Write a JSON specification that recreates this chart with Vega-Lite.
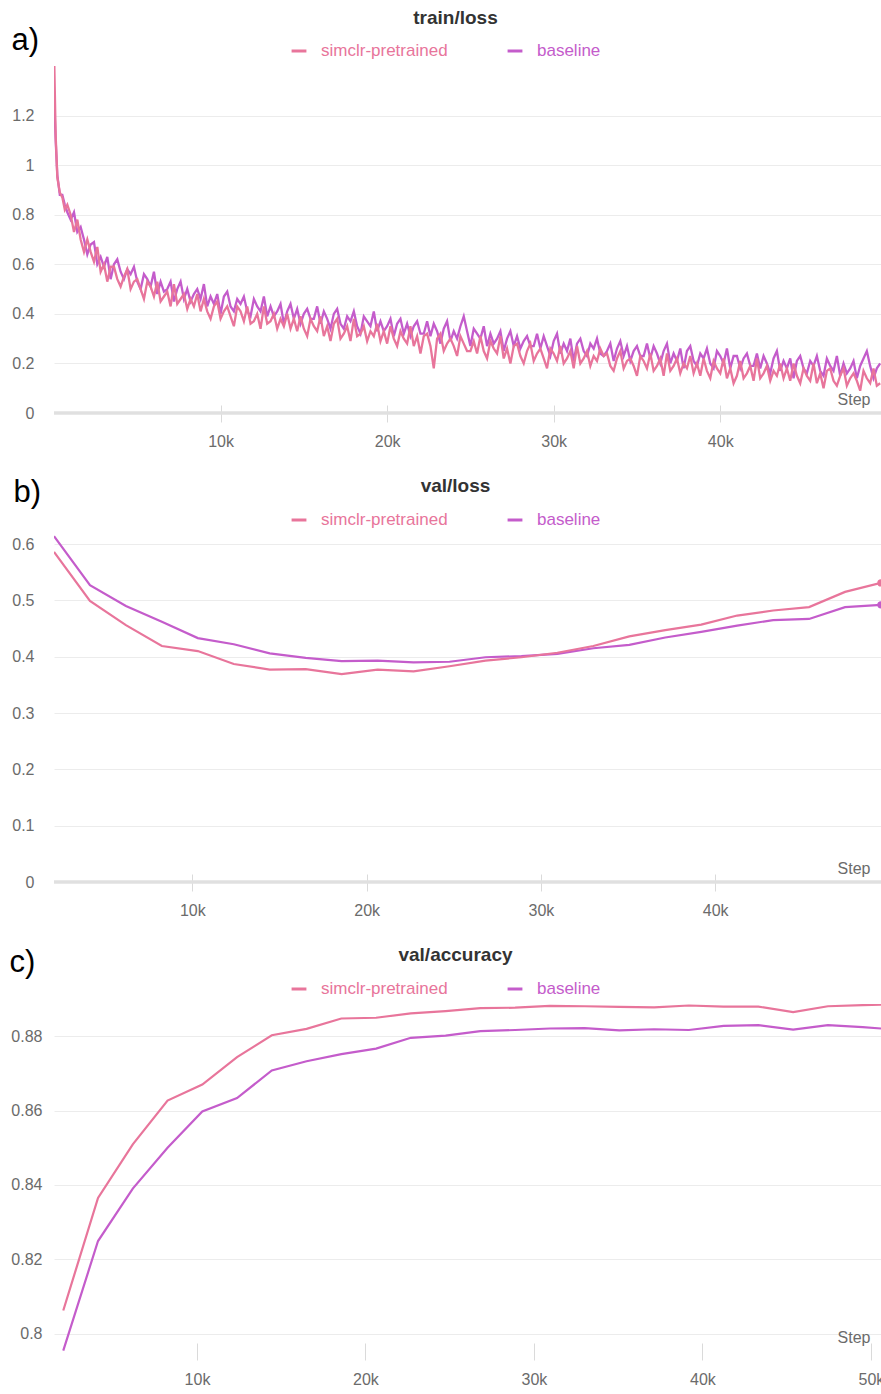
{
 "$schema": "https://vega.github.io/schema/vega-lite/v6.json",
 "padding": {"left": 9, "top": 9, "right": 0, "bottom": 0},
 "autosize": {"type": "pad"},
 "bounds": "flush",
 "spacing": 122,
 "resolve": {"scale": {"color": "independent"}, "legend": {"color": "independent"}},
 "config": {
  "font": "Liberation Sans",
  "view": {"stroke": null},
  "axis": {"labelFont": "Liberation Sans", "labelFontSize": 16, "labelColor": "#6b6b6b", "gridColor": "#ececec", "gridWidth": 1, "domain": false, "ticks": false, "titleFont": "Liberation Sans"},
  "axisX": {"grid": false, "ticks": true, "tickSize": 17, "tickColor": "#dadada", "labelPadding": 11, "titleFontSize": 16, "titleColor": "#6b6b6b", "titleFontWeight": "normal", "titleAnchor": "end", "titleAlign": "right", "titleBaseline": "alphabetic"},
  "axisY": {"grid": true, "labelPadding": 20, "titleAngle": 0, "titleAlign": "left", "titleBaseline": "alphabetic", "titleFontSize": 31, "titleColor": "#000000", "titleFontWeight": "normal"},
  "title": {"font": "Liberation Sans", "fontSize": 19, "fontWeight": "bold", "color": "#333333", "anchor": "middle", "dx": -12},
  "legend": {"symbolType": "stroke", "symbolStrokeWidth": 3, "symbolSize": 220, "labelFont": "Liberation Sans", "labelFontSize": 17, "labelOffset": 13, "columnPadding": 53}
 },
 "datasets": {
  "train": [
   {"step": 20, "simclr-pretrained": 1.40, "baseline": 1.25},
   {"step": 100, "simclr-pretrained": 1.12, "baseline": 1.10},
   {"step": 200, "simclr-pretrained": 0.95, "baseline": 0.96},
   {"step": 350, "simclr-pretrained": 0.89, "baseline": 0.88},
   {"step": 500, "simclr-pretrained": 0.87, "baseline": 0.88},
   {"step": 650, "simclr-pretrained": 0.82, "baseline": 0.84},
   {"step": 800, "simclr-pretrained": 0.84, "baseline": 0.81},
   {"step": 1000, "simclr-pretrained": 0.80, "baseline": 0.78},
   {"step": 1200, "simclr-pretrained": 0.73, "baseline": 0.81},
   {"step": 1400, "simclr-pretrained": 0.78, "baseline": 0.73},
   {"step": 1600, "simclr-pretrained": 0.70, "baseline": 0.75},
   {"step": 1800, "simclr-pretrained": 0.65, "baseline": 0.70},
   {"step": 2000, "simclr-pretrained": 0.70, "baseline": 0.64},
   {"step": 2200, "simclr-pretrained": 0.65, "baseline": 0.68},
   {"step": 2400, "simclr-pretrained": 0.61, "baseline": 0.69},
   {"step": 2600, "simclr-pretrained": 0.67, "baseline": 0.60},
   {"step": 2800, "simclr-pretrained": 0.57, "baseline": 0.63},
   {"step": 3000, "simclr-pretrained": 0.60, "baseline": 0.59},
   {"step": 3200, "simclr-pretrained": 0.53, "baseline": 0.63},
   {"step": 3400, "simclr-pretrained": 0.59, "baseline": 0.54},
   {"step": 3600, "simclr-pretrained": 0.59, "baseline": 0.60},
   {"step": 3800, "simclr-pretrained": 0.54, "baseline": 0.62},
   {"step": 4000, "simclr-pretrained": 0.51, "baseline": 0.57},
   {"step": 4200, "simclr-pretrained": 0.55, "baseline": 0.54},
   {"step": 4400, "simclr-pretrained": 0.58, "baseline": 0.58},
   {"step": 4600, "simclr-pretrained": 0.50, "baseline": 0.56},
   {"step": 4800, "simclr-pretrained": 0.53, "baseline": 0.59},
   {"step": 5000, "simclr-pretrained": 0.54, "baseline": 0.53},
   {"step": 5200, "simclr-pretrained": 0.50, "baseline": 0.50},
   {"step": 5400, "simclr-pretrained": 0.46, "baseline": 0.56},
   {"step": 5600, "simclr-pretrained": 0.53, "baseline": 0.54},
   {"step": 5800, "simclr-pretrained": 0.51, "baseline": 0.51},
   {"step": 6000, "simclr-pretrained": 0.47, "baseline": 0.57},
   {"step": 6200, "simclr-pretrained": 0.53, "baseline": 0.48},
   {"step": 6400, "simclr-pretrained": 0.45, "baseline": 0.53},
   {"step": 6600, "simclr-pretrained": 0.47, "baseline": 0.49},
   {"step": 6800, "simclr-pretrained": 0.49, "baseline": 0.50},
   {"step": 7000, "simclr-pretrained": 0.43, "baseline": 0.53},
   {"step": 7200, "simclr-pretrained": 0.52, "baseline": 0.45},
   {"step": 7400, "simclr-pretrained": 0.44, "baseline": 0.50},
   {"step": 7600, "simclr-pretrained": 0.46, "baseline": 0.53},
   {"step": 7800, "simclr-pretrained": 0.48, "baseline": 0.46},
   {"step": 8000, "simclr-pretrained": 0.42, "baseline": 0.50},
   {"step": 8200, "simclr-pretrained": 0.46, "baseline": 0.45},
   {"step": 8400, "simclr-pretrained": 0.43, "baseline": 0.48},
   {"step": 8600, "simclr-pretrained": 0.48, "baseline": 0.50},
   {"step": 8800, "simclr-pretrained": 0.41, "baseline": 0.46},
   {"step": 9000, "simclr-pretrained": 0.46, "baseline": 0.52},
   {"step": 9200, "simclr-pretrained": 0.41, "baseline": 0.43},
   {"step": 9400, "simclr-pretrained": 0.38, "baseline": 0.47},
   {"step": 9600, "simclr-pretrained": 0.43, "baseline": 0.44},
   {"step": 9800, "simclr-pretrained": 0.45, "baseline": 0.48},
   {"step": 10000, "simclr-pretrained": 0.38, "baseline": 0.40},
   {"step": 10200, "simclr-pretrained": 0.41, "baseline": 0.47},
   {"step": 10400, "simclr-pretrained": 0.43, "baseline": 0.49},
   {"step": 10600, "simclr-pretrained": 0.39, "baseline": 0.43},
   {"step": 10800, "simclr-pretrained": 0.35, "baseline": 0.41},
   {"step": 11000, "simclr-pretrained": 0.43, "baseline": 0.46},
   {"step": 11200, "simclr-pretrained": 0.41, "baseline": 0.44},
   {"step": 11400, "simclr-pretrained": 0.37, "baseline": 0.47},
   {"step": 11600, "simclr-pretrained": 0.43, "baseline": 0.41},
   {"step": 11800, "simclr-pretrained": 0.36, "baseline": 0.39},
   {"step": 12000, "simclr-pretrained": 0.37, "baseline": 0.46},
   {"step": 12200, "simclr-pretrained": 0.40, "baseline": 0.43},
   {"step": 12400, "simclr-pretrained": 0.34, "baseline": 0.41},
   {"step": 12600, "simclr-pretrained": 0.43, "baseline": 0.47},
   {"step": 12800, "simclr-pretrained": 0.36, "baseline": 0.39},
   {"step": 13000, "simclr-pretrained": 0.37, "baseline": 0.43},
   {"step": 13200, "simclr-pretrained": 0.40, "baseline": 0.39},
   {"step": 13400, "simclr-pretrained": 0.34, "baseline": 0.41},
   {"step": 13600, "simclr-pretrained": 0.38, "baseline": 0.44},
   {"step": 13800, "simclr-pretrained": 0.35, "baseline": 0.36},
   {"step": 14000, "simclr-pretrained": 0.40, "baseline": 0.41},
   {"step": 14200, "simclr-pretrained": 0.34, "baseline": 0.44},
   {"step": 14400, "simclr-pretrained": 0.38, "baseline": 0.38},
   {"step": 14600, "simclr-pretrained": 0.33, "baseline": 0.42},
   {"step": 14800, "simclr-pretrained": 0.39, "baseline": 0.36},
   {"step": 15000, "simclr-pretrained": 0.34, "baseline": 0.40},
   {"step": 15200, "simclr-pretrained": 0.31, "baseline": 0.42},
   {"step": 15400, "simclr-pretrained": 0.38, "baseline": 0.38},
   {"step": 15600, "simclr-pretrained": 0.35, "baseline": 0.38},
   {"step": 15800, "simclr-pretrained": 0.33, "baseline": 0.43},
   {"step": 16000, "simclr-pretrained": 0.39, "baseline": 0.36},
   {"step": 16200, "simclr-pretrained": 0.31, "baseline": 0.41},
   {"step": 16400, "simclr-pretrained": 0.35, "baseline": 0.38},
   {"step": 16600, "simclr-pretrained": 0.29, "baseline": 0.34},
   {"step": 16800, "simclr-pretrained": 0.36, "baseline": 0.40},
   {"step": 17000, "simclr-pretrained": 0.38, "baseline": 0.42},
   {"step": 17200, "simclr-pretrained": 0.30, "baseline": 0.36},
   {"step": 17400, "simclr-pretrained": 0.32, "baseline": 0.34},
   {"step": 17600, "simclr-pretrained": 0.35, "baseline": 0.39},
   {"step": 17800, "simclr-pretrained": 0.29, "baseline": 0.37},
   {"step": 18000, "simclr-pretrained": 0.38, "baseline": 0.41},
   {"step": 18200, "simclr-pretrained": 0.31, "baseline": 0.35},
   {"step": 18400, "simclr-pretrained": 0.32, "baseline": 0.32},
   {"step": 18600, "simclr-pretrained": 0.35, "baseline": 0.39},
   {"step": 18800, "simclr-pretrained": 0.29, "baseline": 0.37},
   {"step": 19000, "simclr-pretrained": 0.33, "baseline": 0.35},
   {"step": 19200, "simclr-pretrained": 0.31, "baseline": 0.41},
   {"step": 19400, "simclr-pretrained": 0.36, "baseline": 0.33},
   {"step": 19600, "simclr-pretrained": 0.29, "baseline": 0.37},
   {"step": 19800, "simclr-pretrained": 0.33, "baseline": 0.33},
   {"step": 20000, "simclr-pretrained": 0.28, "baseline": 0.35},
   {"step": 20200, "simclr-pretrained": 0.35, "baseline": 0.38},
   {"step": 20400, "simclr-pretrained": 0.30, "baseline": 0.31},
   {"step": 20600, "simclr-pretrained": 0.27, "baseline": 0.36},
   {"step": 20800, "simclr-pretrained": 0.33, "baseline": 0.38},
   {"step": 21000, "simclr-pretrained": 0.30, "baseline": 0.32},
   {"step": 21200, "simclr-pretrained": 0.28, "baseline": 0.36},
   {"step": 21400, "simclr-pretrained": 0.35, "baseline": 0.31},
   {"step": 21600, "simclr-pretrained": 0.27, "baseline": 0.35},
   {"step": 21800, "simclr-pretrained": 0.31, "baseline": 0.37},
   {"step": 22000, "simclr-pretrained": 0.24, "baseline": 0.32},
   {"step": 22200, "simclr-pretrained": 0.31, "baseline": 0.32},
   {"step": 22400, "simclr-pretrained": 0.32, "baseline": 0.37},
   {"step": 22600, "simclr-pretrained": 0.27, "baseline": 0.31},
   {"step": 22800, "simclr-pretrained": 0.18, "baseline": 0.36},
   {"step": 23000, "simclr-pretrained": 0.30, "baseline": 0.33},
   {"step": 23200, "simclr-pretrained": 0.32, "baseline": 0.28},
   {"step": 23400, "simclr-pretrained": 0.25, "baseline": 0.34},
   {"step": 23600, "simclr-pretrained": 0.28, "baseline": 0.37},
   {"step": 23800, "simclr-pretrained": 0.30, "baseline": 0.29},
   {"step": 24000, "simclr-pretrained": 0.27, "baseline": 0.33},
   {"step": 24200, "simclr-pretrained": 0.23, "baseline": 0.30},
   {"step": 24400, "simclr-pretrained": 0.31, "baseline": 0.35},
   {"step": 24600, "simclr-pretrained": 0.28, "baseline": 0.39},
   {"step": 24800, "simclr-pretrained": 0.25, "baseline": 0.33},
   {"step": 25000, "simclr-pretrained": 0.25, "baseline": 0.27},
   {"step": 25200, "simclr-pretrained": 0.29, "baseline": 0.34},
   {"step": 25400, "simclr-pretrained": 0.24, "baseline": 0.32},
   {"step": 25600, "simclr-pretrained": 0.31, "baseline": 0.30},
   {"step": 25800, "simclr-pretrained": 0.25, "baseline": 0.35},
   {"step": 26000, "simclr-pretrained": 0.22, "baseline": 0.27},
   {"step": 26200, "simclr-pretrained": 0.29, "baseline": 0.32},
   {"step": 26400, "simclr-pretrained": 0.26, "baseline": 0.28},
   {"step": 26600, "simclr-pretrained": 0.24, "baseline": 0.30},
   {"step": 26800, "simclr-pretrained": 0.31, "baseline": 0.33},
   {"step": 27000, "simclr-pretrained": 0.22, "baseline": 0.25},
   {"step": 27200, "simclr-pretrained": 0.26, "baseline": 0.30},
   {"step": 27400, "simclr-pretrained": 0.20, "baseline": 0.33},
   {"step": 27600, "simclr-pretrained": 0.27, "baseline": 0.27},
   {"step": 27800, "simclr-pretrained": 0.28, "baseline": 0.31},
   {"step": 28000, "simclr-pretrained": 0.23, "baseline": 0.26},
   {"step": 28200, "simclr-pretrained": 0.20, "baseline": 0.29},
   {"step": 28400, "simclr-pretrained": 0.25, "baseline": 0.31},
   {"step": 28600, "simclr-pretrained": 0.28, "baseline": 0.27},
   {"step": 28800, "simclr-pretrained": 0.21, "baseline": 0.27},
   {"step": 29000, "simclr-pretrained": 0.24, "baseline": 0.32},
   {"step": 29200, "simclr-pretrained": 0.26, "baseline": 0.26},
   {"step": 29400, "simclr-pretrained": 0.22, "baseline": 0.31},
   {"step": 29600, "simclr-pretrained": 0.18, "baseline": 0.27},
   {"step": 29800, "simclr-pretrained": 0.26, "baseline": 0.23},
   {"step": 30000, "simclr-pretrained": 0.24, "baseline": 0.29},
   {"step": 30200, "simclr-pretrained": 0.21, "baseline": 0.32},
   {"step": 30400, "simclr-pretrained": 0.27, "baseline": 0.24},
   {"step": 30600, "simclr-pretrained": 0.20, "baseline": 0.28},
   {"step": 30800, "simclr-pretrained": 0.22, "baseline": 0.25},
   {"step": 31000, "simclr-pretrained": 0.25, "baseline": 0.30},
   {"step": 31200, "simclr-pretrained": 0.18, "baseline": 0.21},
   {"step": 31400, "simclr-pretrained": 0.27, "baseline": 0.28},
   {"step": 31600, "simclr-pretrained": 0.20, "baseline": 0.30},
   {"step": 31800, "simclr-pretrained": 0.22, "baseline": 0.25},
   {"step": 32000, "simclr-pretrained": 0.25, "baseline": 0.23},
   {"step": 32200, "simclr-pretrained": 0.19, "baseline": 0.28},
   {"step": 32400, "simclr-pretrained": 0.23, "baseline": 0.26},
   {"step": 32600, "simclr-pretrained": 0.21, "baseline": 0.30},
   {"step": 32800, "simclr-pretrained": 0.26, "baseline": 0.24},
   {"step": 33000, "simclr-pretrained": 0.23, "baseline": 0.23},
   {"step": 33200, "simclr-pretrained": 0.24, "baseline": 0.25},
   {"step": 33400, "simclr-pretrained": 0.19, "baseline": 0.28},
   {"step": 33600, "simclr-pretrained": 0.17, "baseline": 0.21},
   {"step": 33800, "simclr-pretrained": 0.22, "baseline": 0.26},
   {"step": 34000, "simclr-pretrained": 0.25, "baseline": 0.29},
   {"step": 34200, "simclr-pretrained": 0.18, "baseline": 0.23},
   {"step": 34400, "simclr-pretrained": 0.21, "baseline": 0.27},
   {"step": 34600, "simclr-pretrained": 0.22, "baseline": 0.21},
   {"step": 34800, "simclr-pretrained": 0.19, "baseline": 0.25},
   {"step": 35000, "simclr-pretrained": 0.15, "baseline": 0.27},
   {"step": 35200, "simclr-pretrained": 0.23, "baseline": 0.23},
   {"step": 35400, "simclr-pretrained": 0.21, "baseline": 0.23},
   {"step": 35600, "simclr-pretrained": 0.18, "baseline": 0.28},
   {"step": 35800, "simclr-pretrained": 0.24, "baseline": 0.22},
   {"step": 36000, "simclr-pretrained": 0.17, "baseline": 0.27},
   {"step": 36200, "simclr-pretrained": 0.19, "baseline": 0.24},
   {"step": 36400, "simclr-pretrained": 0.22, "baseline": 0.20},
   {"step": 36600, "simclr-pretrained": 0.15, "baseline": 0.25},
   {"step": 36800, "simclr-pretrained": 0.24, "baseline": 0.28},
   {"step": 37000, "simclr-pretrained": 0.17, "baseline": 0.20},
   {"step": 37200, "simclr-pretrained": 0.19, "baseline": 0.24},
   {"step": 37400, "simclr-pretrained": 0.22, "baseline": 0.21},
   {"step": 37600, "simclr-pretrained": 0.16, "baseline": 0.26},
   {"step": 37800, "simclr-pretrained": 0.20, "baseline": 0.18},
   {"step": 38000, "simclr-pretrained": 0.18, "baseline": 0.25},
   {"step": 38200, "simclr-pretrained": 0.23, "baseline": 0.27},
   {"step": 38400, "simclr-pretrained": 0.16, "baseline": 0.21},
   {"step": 38600, "simclr-pretrained": 0.20, "baseline": 0.19},
   {"step": 38800, "simclr-pretrained": 0.15, "baseline": 0.24},
   {"step": 39000, "simclr-pretrained": 0.22, "baseline": 0.22},
   {"step": 39200, "simclr-pretrained": 0.17, "baseline": 0.26},
   {"step": 39400, "simclr-pretrained": 0.14, "baseline": 0.20},
   {"step": 39600, "simclr-pretrained": 0.21, "baseline": 0.18},
   {"step": 39800, "simclr-pretrained": 0.18, "baseline": 0.25},
   {"step": 40000, "simclr-pretrained": 0.16, "baseline": 0.23},
   {"step": 40200, "simclr-pretrained": 0.22, "baseline": 0.20},
   {"step": 40400, "simclr-pretrained": 0.14, "baseline": 0.26},
   {"step": 40600, "simclr-pretrained": 0.18, "baseline": 0.18},
   {"step": 40800, "simclr-pretrained": 0.12, "baseline": 0.23},
   {"step": 41000, "simclr-pretrained": 0.15, "baseline": 0.23},
   {"step": 41200, "simclr-pretrained": 0.21, "baseline": 0.18},
   {"step": 41400, "simclr-pretrained": 0.14, "baseline": 0.22},
   {"step": 41600, "simclr-pretrained": 0.16, "baseline": 0.24},
   {"step": 41800, "simclr-pretrained": 0.19, "baseline": 0.19},
   {"step": 42000, "simclr-pretrained": 0.13, "baseline": 0.19},
   {"step": 42200, "simclr-pretrained": 0.22, "baseline": 0.24},
   {"step": 42400, "simclr-pretrained": 0.14, "baseline": 0.18},
   {"step": 42600, "simclr-pretrained": 0.16, "baseline": 0.23},
   {"step": 42800, "simclr-pretrained": 0.19, "baseline": 0.20},
   {"step": 43000, "simclr-pretrained": 0.13, "baseline": 0.16},
   {"step": 43200, "simclr-pretrained": 0.17, "baseline": 0.22},
   {"step": 43400, "simclr-pretrained": 0.15, "baseline": 0.25},
   {"step": 43600, "simclr-pretrained": 0.20, "baseline": 0.17},
   {"step": 43800, "simclr-pretrained": 0.14, "baseline": 0.21},
   {"step": 44000, "simclr-pretrained": 0.18, "baseline": 0.18},
   {"step": 44200, "simclr-pretrained": 0.13, "baseline": 0.22},
   {"step": 44400, "simclr-pretrained": 0.20, "baseline": 0.14},
   {"step": 44600, "simclr-pretrained": 0.15, "baseline": 0.21},
   {"step": 44800, "simclr-pretrained": 0.12, "baseline": 0.23},
   {"step": 45000, "simclr-pretrained": 0.18, "baseline": 0.18},
   {"step": 45200, "simclr-pretrained": 0.15, "baseline": 0.16},
   {"step": 45400, "simclr-pretrained": 0.13, "baseline": 0.21},
   {"step": 45600, "simclr-pretrained": 0.20, "baseline": 0.19},
   {"step": 45800, "simclr-pretrained": 0.12, "baseline": 0.23},
   {"step": 46000, "simclr-pretrained": 0.16, "baseline": 0.17},
   {"step": 46200, "simclr-pretrained": 0.10, "baseline": 0.15},
   {"step": 46400, "simclr-pretrained": 0.17, "baseline": 0.22},
   {"step": 46600, "simclr-pretrained": 0.18, "baseline": 0.19},
   {"step": 46800, "simclr-pretrained": 0.13, "baseline": 0.17},
   {"step": 47000, "simclr-pretrained": 0.11, "baseline": 0.23},
   {"step": 47200, "simclr-pretrained": 0.15, "baseline": 0.15},
   {"step": 47400, "simclr-pretrained": 0.18, "baseline": 0.20},
   {"step": 47600, "simclr-pretrained": 0.11, "baseline": 0.16},
   {"step": 47800, "simclr-pretrained": 0.14, "baseline": 0.18},
   {"step": 48000, "simclr-pretrained": 0.16, "baseline": 0.21},
   {"step": 48200, "simclr-pretrained": 0.13, "baseline": 0.14},
   {"step": 48400, "simclr-pretrained": 0.09, "baseline": 0.19},
   {"step": 48600, "simclr-pretrained": 0.17, "baseline": 0.22},
   {"step": 48800, "simclr-pretrained": 0.14, "baseline": 0.25},
   {"step": 49000, "simclr-pretrained": 0.12, "baseline": 0.19},
   {"step": 49200, "simclr-pretrained": 0.18, "baseline": 0.14},
   {"step": 49400, "simclr-pretrained": 0.11, "baseline": 0.18},
   {"step": 49600, "simclr-pretrained": 0.12, "baseline": 0.20}
  ],
  "val": [
   {"step": 2063, "simclr-pretrained": 0.586, "baseline": 0.614},
   {"step": 4126, "simclr-pretrained": 0.499, "baseline": 0.527},
   {"step": 6189, "simclr-pretrained": 0.456, "baseline": 0.490},
   {"step": 8252, "simclr-pretrained": 0.419, "baseline": 0.462},
   {"step": 10315, "simclr-pretrained": 0.410, "baseline": 0.433},
   {"step": 12378, "simclr-pretrained": 0.387, "baseline": 0.422},
   {"step": 14441, "simclr-pretrained": 0.377, "baseline": 0.406},
   {"step": 16504, "simclr-pretrained": 0.378, "baseline": 0.398},
   {"step": 18567, "simclr-pretrained": 0.369, "baseline": 0.392},
   {"step": 20630, "simclr-pretrained": 0.377, "baseline": 0.393},
   {"step": 22693, "simclr-pretrained": 0.374, "baseline": 0.390},
   {"step": 24756, "simclr-pretrained": 0.383, "baseline": 0.391},
   {"step": 26819, "simclr-pretrained": 0.393, "baseline": 0.399},
   {"step": 28882, "simclr-pretrained": 0.399, "baseline": 0.401},
   {"step": 30945, "simclr-pretrained": 0.407, "baseline": 0.405},
   {"step": 33008, "simclr-pretrained": 0.419, "baseline": 0.415},
   {"step": 35071, "simclr-pretrained": 0.436, "baseline": 0.421},
   {"step": 37134, "simclr-pretrained": 0.447, "baseline": 0.434},
   {"step": 39197, "simclr-pretrained": 0.457, "baseline": 0.444},
   {"step": 41260, "simclr-pretrained": 0.473, "baseline": 0.455},
   {"step": 43323, "simclr-pretrained": 0.482, "baseline": 0.465},
   {"step": 45386, "simclr-pretrained": 0.488, "baseline": 0.467},
   {"step": 47449, "simclr-pretrained": 0.515, "baseline": 0.488},
   {"step": 49512, "simclr-pretrained": 0.531, "baseline": 0.492}
  ],
  "acc": [
   {"step": 2063, "simclr-pretrained": 0.8062, "baseline": 0.7954},
   {"step": 4126, "simclr-pretrained": 0.8365, "baseline": 0.8249},
   {"step": 6189, "simclr-pretrained": 0.8509, "baseline": 0.8390},
   {"step": 8252, "simclr-pretrained": 0.8627, "baseline": 0.8500},
   {"step": 10315, "simclr-pretrained": 0.8670, "baseline": 0.8598},
   {"step": 12378, "simclr-pretrained": 0.8744, "baseline": 0.8634},
   {"step": 14441, "simclr-pretrained": 0.8803, "baseline": 0.8708},
   {"step": 16504, "simclr-pretrained": 0.8820, "baseline": 0.8733},
   {"step": 18567, "simclr-pretrained": 0.8848, "baseline": 0.8752},
   {"step": 20630, "simclr-pretrained": 0.8850, "baseline": 0.8767},
   {"step": 22693, "simclr-pretrained": 0.8862, "baseline": 0.8796},
   {"step": 24756, "simclr-pretrained": 0.8868, "baseline": 0.8802},
   {"step": 26819, "simclr-pretrained": 0.8876, "baseline": 0.8814},
   {"step": 28882, "simclr-pretrained": 0.8877, "baseline": 0.8817},
   {"step": 30945, "simclr-pretrained": 0.8882, "baseline": 0.8821},
   {"step": 33008, "simclr-pretrained": 0.8881, "baseline": 0.8822},
   {"step": 35071, "simclr-pretrained": 0.8879, "baseline": 0.8816},
   {"step": 37134, "simclr-pretrained": 0.8878, "baseline": 0.8819},
   {"step": 39197, "simclr-pretrained": 0.8883, "baseline": 0.8817},
   {"step": 41260, "simclr-pretrained": 0.8880, "baseline": 0.8828},
   {"step": 43323, "simclr-pretrained": 0.8880, "baseline": 0.8830},
   {"step": 45386, "simclr-pretrained": 0.8865, "baseline": 0.8818},
   {"step": 47449, "simclr-pretrained": 0.8881, "baseline": 0.8830},
   {"step": 49512, "simclr-pretrained": 0.8884, "baseline": 0.8825},
   {"step": 50600, "simclr-pretrained": 0.8885, "baseline": 0.8821}
  ]
 },
 "vconcat": [
  {
   "width": 827, "height": 347,
   "title": {"text": "train/loss", "offset": -4},
   "layer": [
    {"data": {"values": [{}]}, "mark": {"type": "rule", "color": "#e0e0e0", "strokeWidth": 3.5}, "encoding": {"y": {"datum": 0, "type": "quantitative"}}},
    {
     "data": {"name": "train"},
     "transform": [{"fold": ["baseline", "simclr-pretrained"], "as": ["run", "value"]}],
     "mark": {"type": "line", "strokeWidth": 2.3, "clip": true},
     "encoding": {
      "x": {"field": "step", "type": "quantitative", "scale": {"domain": [0, 49650], "nice": false, "zero": false},
            "axis": {"values": [10000, 20000, 30000, 40000], "labelExpr": "datum.value/1000 + 'k'", "title": "Step", "titleX": 816, "titleY": -1, "offset": -8}},
      "y": {"field": "value", "type": "quantitative", "scale": {"domain": [0, 1.4], "nice": false},
            "axis": {"values": [0, 0.2, 0.4, 0.6, 0.8, 1, 1.2], "format": "~g", "title": "a)", "titleX": -43, "titleY": -17}},
      "color": {"field": "run", "type": "nominal", "scale": {"domain": ["simclr-pretrained", "baseline"], "range": ["#e8759b", "#c45ccb"]},
            "legend": {"title": null, "orient": "none", "direction": "horizontal", "legendX": 236, "legendY": -24, "symbolType": "stroke",
                       "encode": {"labels": {"update": {"fill": [{"test": "datum.label === 'baseline'", "value": "#c45ccb"}, {"value": "#e8759b"}]}}}}}
     }
    }
   ]
  },
  {
   "width": 827, "height": 347,
   "title": {"text": "val/loss", "offset": -20},
   "layer": [
    {"data": {"values": [{}]}, "mark": {"type": "rule", "color": "#e0e0e0", "strokeWidth": 3.5}, "encoding": {"y": {"datum": 0, "type": "quantitative"}}},
    {
     "data": {"name": "val"},
     "transform": [{"fold": ["baseline", "simclr-pretrained"], "as": ["run", "value"]}],
     "mark": {"type": "line", "strokeWidth": 2.2, "clip": true},
     "encoding": {
      "x": {"field": "step", "type": "quantitative", "scale": {"domain": [2063, 49512], "nice": false, "zero": false},
            "axis": {"values": [10000, 20000, 30000, 40000], "labelExpr": "datum.value/1000 + 'k'", "title": "Step", "titleX": 816, "titleY": -1, "offset": -8}},
      "y": {"field": "value", "type": "quantitative", "scale": {"domain": [0, 0.616], "nice": false},
            "axis": {"values": [0, 0.1, 0.2, 0.3, 0.4, 0.5, 0.6], "format": "~g", "title": "b)", "titleX": -41, "titleY": -34}},
      "color": {"field": "run", "type": "nominal", "scale": {"domain": ["simclr-pretrained", "baseline"], "range": ["#e8759b", "#c45ccb"]},
            "legend": {"title": null, "orient": "none", "direction": "horizontal", "legendX": 236, "legendY": -24, "symbolType": "stroke",
                       "encode": {"labels": {"update": {"fill": [{"test": "datum.label === 'baseline'", "value": "#c45ccb"}, {"value": "#e8759b"}]}}}}}
     }
    },
    {
     "data": {"name": "val"},
     "transform": [{"filter": "datum.step == 49512"}, {"fold": ["baseline", "simclr-pretrained"], "as": ["run", "value"]}],
     "mark": {"type": "point", "filled": true, "size": 55, "opacity": 1, "clip": false},
     "encoding": {
      "x": {"field": "step", "type": "quantitative"},
      "y": {"field": "value", "type": "quantitative"},
      "color": {"field": "run", "type": "nominal"}
     }
    }
   ]
  },
  {
   "width": 827, "height": 347,
   "title": {"text": "val/accuracy", "offset": -19},
   "layer": [
    {
     "data": {"name": "acc"},
     "transform": [{"fold": ["baseline", "simclr-pretrained"], "as": ["run", "value"]}],
     "mark": {"type": "line", "strokeWidth": 2.2, "clip": true},
     "encoding": {
      "x": {"field": "step", "type": "quantitative", "scale": {"domain": [1513, 50600], "nice": false, "zero": false},
            "axis": {"values": [10000, 20000, 30000, 40000, 50000], "labelExpr": "datum.value/1000 + 'k'", "title": "Step", "titleX": 816, "titleY": -1, "offset": -8}},
      "y": {"field": "value", "type": "quantitative", "scale": {"domain": [0.7953, 0.8887], "nice": false, "zero": false},
            "axis": {"values": [0.8, 0.82, 0.84, 0.86, 0.88], "format": "~g", "labelPadding": 12, "title": "c)", "titleX": -45, "titleY": -33}},
      "color": {"field": "run", "type": "nominal", "scale": {"domain": ["simclr-pretrained", "baseline"], "range": ["#e8759b", "#c45ccb"]},
            "legend": {"title": null, "orient": "none", "direction": "horizontal", "legendX": 236, "legendY": -24, "symbolType": "stroke",
                       "encode": {"labels": {"update": {"fill": [{"test": "datum.label === 'baseline'", "value": "#c45ccb"}, {"value": "#e8759b"}]}}}}}
     }
    }
   ]
  }
 ]
}
